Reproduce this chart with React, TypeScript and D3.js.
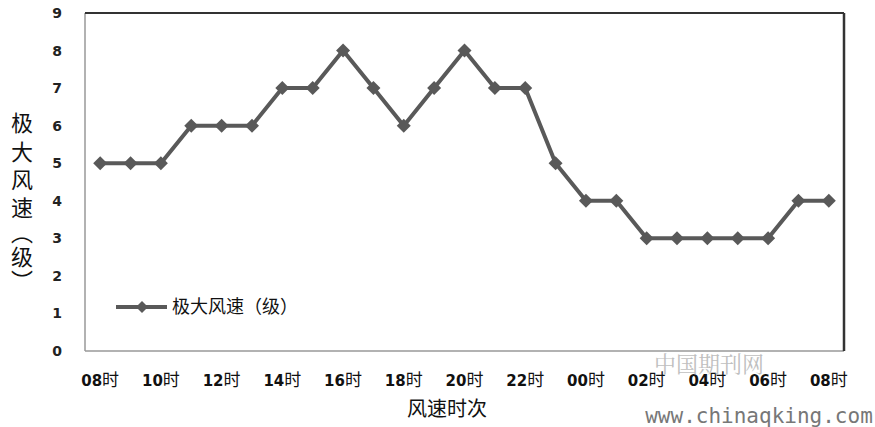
import React from "react";
import * as d3 from "d3";

const hours = ["08","09","10","11","12","13","14","15","16","17","18","19","20","21","22","23","00","01","02","03","04","05","06","07","08b"];
const values = [5,5,5,6,6,6,7,7,8,7,6,7,8,7,7,5,4,4,3,3,3,3,3,4,4];
const tickHours = ["08","10","12","14","16","18","20","22","00","02","04","06","08b"];
const yTicks = [0,1,2,3,4,5,6,7,8,9];
const yTitle = ["极","大","风","速","︵","级","︶"];
const yTitleY = [123, 152, 180, 208, 233, 257, 281];

export default function App() {
  const W = 875, H = 427;
  const left = 85, right = 844, top = 13, bottom = 351;
  const x = d3.scaleBand<string>().domain(hours).range([left, right]);
  const y = d3.scaleLinear().domain([0, 9]).range([bottom, top]);
  const cx = (h: string) => (x(h) as number) + x.bandwidth() / 2;
  const line = d3.line<number>().x((_, i) => cx(hours[i])).y((v) => y(v));
  const diamond = (px: number, py: number, r: number) =>
    `M${px},${py - r}L${px + r},${py}L${px},${py + r}L${px - r},${py}Z`;
  const font = "Verdana, 'DejaVu Sans', sans-serif";
  const cjk = "'Noto Sans CJK SC', sans-serif";
  return (
    <svg width={W} height={H} style={{ position: "absolute", left: 0, top: 0, background: "#fff" }}>
      <rect x={0} y={0} width={W} height={H} fill="#fff" />
      <line x1={left} y1={top} x2={left} y2={bottom} stroke="#999" strokeWidth={1.5} />
      <line x1={left} y1={bottom} x2={right} y2={bottom} stroke="#999" strokeWidth={1.5} />
      <line x1={left} y1={top} x2={right} y2={top} stroke="#333" strokeWidth={2} />
      <line x1={right} y1={top} x2={right} y2={bottom} stroke="#333" strokeWidth={2.5} />
      {yTicks.map((t) => (
        <text key={t} x={57} y={y(t)} dy="0.36em" textAnchor="middle" fontFamily={font} fontWeight="bold" fontSize={14} fill="#222">{t}</text>
      ))}
      {tickHours.map((h) => (
        <text key={h} x={cx(h)} y={380} dy="0.36em" textAnchor="middle" fill="#111">
          <tspan fontFamily={font} fontWeight="bold" fontSize={15}>{h.slice(0, 2)}</tspan>
          <tspan fontFamily={cjk} fontSize={17}>时</tspan>
        </text>
      ))}
      <text x={447} y={409} dy="0.36em" textAnchor="middle" fontFamily={cjk} fontSize={20} fill="#111">风速时次</text>
      {yTitle.map((c, i) => (
        <text key={i} x={22} y={yTitleY[i]} dy="0.36em" textAnchor="middle" fontFamily={cjk} fontSize={22} fill="#111">{c}</text>
      ))}
      <path d={line(values) as string} fill="none" stroke="#595959" strokeWidth={4} strokeLinejoin="round" />
      {values.map((v, i) => (
        <path key={i} d={diamond(cx(hours[i]), y(v), 7)} fill="#595959" />
      ))}
      <line x1={116} y1={307} x2={167} y2={307} stroke="#595959" strokeWidth={4} />
      <path d={diamond(142, 307, 6)} fill="#595959" />
      <text x={172} y={307} dy="0.36em" fontFamily={cjk} fontSize={18} fill="#111">极大风速（级）</text>
      <text x={709} y={364} dy="0.36em" textAnchor="middle" fontFamily="'Noto Serif CJK SC', 'Noto Sans CJK SC', serif" fontSize={22} fill="#aaa" opacity={0.75}>中国期刊网</text>
      <text x={759} y={415} dy="0.36em" textAnchor="middle" fontFamily="'DejaVu Sans Mono', monospace" fontSize={21} fill="#777">www.chinaqking.com</text>
    </svg>
  );
}
